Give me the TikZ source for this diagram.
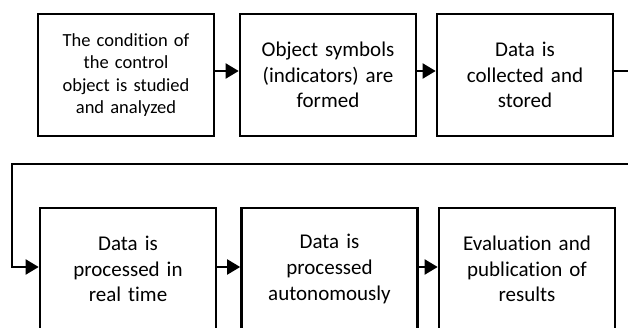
\documentclass[tikz,border=0pt]{standalone}
\usepackage{fontspec}
\setmainfont{Carlito}[Ligatures=NoCommon]
\usetikzlibrary{arrows.meta}
\begin{document}
\begin{tikzpicture}[x=1pt,y=-1pt,
  box/.style={draw, line width=2.6pt, minimum width=176pt, minimum height=122pt,
    align=center, inner sep=0pt, text width=168pt,
    font=\fontsize{21}{25.6}\selectfont},
  smalltext/.style={font=\fontsize{18.5}{22.4}\selectfont},
  link/.style={line width=2pt, -{Triangle[length=13pt,width=15pt]}}]
\useasboundingbox (0,0) rectangle (628,327);
\clip (0,0) rectangle (628,327);
% upper row
\node[box, smalltext] (b1) at (126,75) {The condition of\\the control\\object is studied\\and analyzed};
\node[box] (b2) at (328,75) {Object symbols\\(indicators) are\\formed};
\node[box] (b3) at (525,75) {Data is\\collected and\\stored};
% lower row
\node[box] (b4) at (128,269) {Data is\\processed in\\real time};
\node[box] (b5) at (329.5,269) {Data is\\processed\\autonomously};
\node[box] (b6) at (527,269) {Evaluation and\\publication of\\results};
% turning point of the return line
\coordinate (rt) at (12,164);
% connectors
\draw[link] ([yshift=4pt]b1.east) -- ([yshift=4pt]b2.west);
\draw[link] ([yshift=4pt]b2.east) -- ([yshift=4pt]b3.west);
\draw[link] ([yshift=4pt]b3.east) -- ++(30,0) |- (rt) |- ([yshift=2pt]b4.west);
\draw[link] ([yshift=2pt]b4.east) -- ([yshift=2pt]b5.west);
\draw[link] ([yshift=2pt]b5.east) -- ([yshift=2pt]b6.west);
\end{tikzpicture}
\end{document}
